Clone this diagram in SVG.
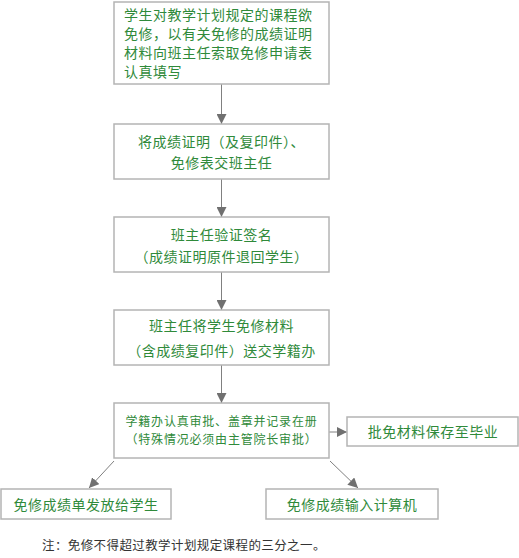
<svg xmlns="http://www.w3.org/2000/svg" width="519" height="558" viewBox="0 0 519 558">
<style>
.box{fill:#fff;stroke:#b4b4b4;stroke-width:1.5}
.t{font-family:"Noto Sans CJK SC","Noto Sans",sans-serif;fill:#2f8a3a;font-size:14px;letter-spacing:0.5px}
.s{font-size:12px;letter-spacing:0.8px}
.c{stroke:#808080;stroke-width:1;fill:none}
.note{font-family:"Liberation Serif","Noto Sans CJK SC",serif;font-size:12.5px;fill:#333;letter-spacing:0.4px}
</style>
<defs>
<marker id="a" viewBox="0 0 10 10" refX="10" refY="5" markerWidth="10" markerHeight="10" markerUnits="userSpaceOnUse" orient="auto">
<path d="M0,0 L10,5 L0,10 Z" fill="#707070"/>
</marker>
</defs>
<g id="connectors">
<line class="c" x1="221.5" y1="84" x2="221.5" y2="124" marker-end="url(#a)"/>
<line class="c" x1="221.5" y1="179" x2="221.5" y2="217" marker-end="url(#a)"/>
<line class="c" x1="221.5" y1="272" x2="221.5" y2="310" marker-end="url(#a)"/>
<line class="c" x1="221.5" y1="365" x2="221.5" y2="403" marker-end="url(#a)"/>
<line class="c" x1="329" y1="432" x2="347" y2="432" marker-end="url(#a)"/>
<line class="c" x1="114" y1="461" x2="89" y2="488" marker-end="url(#a)"/>
<line class="c" x1="330" y1="461" x2="358" y2="488" marker-end="url(#a)"/>
</g>
<g id="n1">
<rect class="box" x="114" y="2" width="215" height="82"/>
<text class="t" x="124" y="20">学生对教学计划规定的课程欲</text>
<text class="t" x="124" y="39">免修，以有关免修的成绩证明</text>
<text class="t" x="124" y="58">材料向班主任索取免修申请表</text>
<text class="t" x="124" y="77">认真填写</text>
</g>
<g id="n2">
<rect class="box" x="114" y="124" width="215" height="55"/>
<text class="t" x="221.5" y="147" text-anchor="middle">将成绩证明（及复印件）、</text>
<text class="t" x="221.5" y="168" text-anchor="middle">免修表交班主任</text>
</g>
<g id="n3">
<rect class="box" x="114" y="217" width="215" height="55"/>
<text class="t" x="221.5" y="240" text-anchor="middle">班主任验证签名</text>
<text class="t" x="221.5" y="262" text-anchor="middle">（成绩证明原件退回学生）</text>
</g>
<g id="n4">
<rect class="box" x="114" y="310" width="215" height="55"/>
<text class="t" x="221.5" y="331" text-anchor="middle">班主任将学生免修材料</text>
<text class="t" x="221.5" y="356" text-anchor="middle">（含成绩复印件）送交学籍办</text>
</g>
<g id="n5">
<rect class="box" x="114" y="403" width="215" height="55"/>
<text class="t s" x="221.5" y="425.5" text-anchor="middle">学籍办认真审批、盖章并记录在册</text>
<text class="t s" x="221.5" y="443.5" text-anchor="middle">（特殊情况必须由主管院长审批）</text>
</g>
<g id="n6">
<rect class="box" x="347" y="417" width="171" height="29"/>
<text class="t" x="433" y="437" text-anchor="middle">批免材料保存至毕业</text>
</g>
<g id="n7">
<rect class="box" x="1" y="489" width="170" height="30"/>
<text class="t" x="86" y="510" text-anchor="middle">免修成绩单发放给学生</text>
</g>
<g id="n8">
<rect class="box" x="266" y="489" width="172" height="30"/>
<text class="t" x="352" y="510" text-anchor="middle">免修成绩输入计算机</text>
</g>
<text class="note" x="42" y="550">注：免修不得超过教学计划规定课程的三分之一。</text>
</svg>
